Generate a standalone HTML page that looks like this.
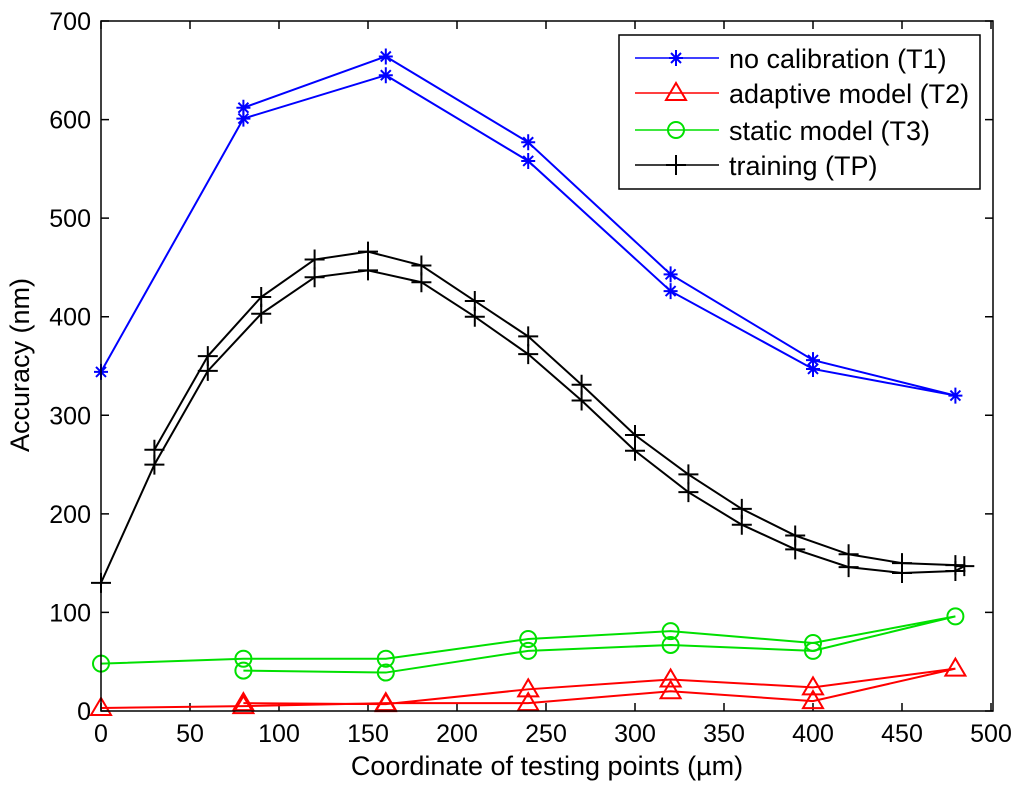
<!DOCTYPE html>
<html><head><meta charset="utf-8"><style>
body{margin:0;background:#fff}
svg text{font-family:"Liberation Sans",Arial,sans-serif;fill:#000}
</style></head><body>
<svg id="chart" width="1024" height="786" xmlns="http://www.w3.org/2000/svg">
<rect width="1024" height="786" fill="#fff"/>
<g id="ticks"></g>
<g id="series"></g>
<rect x="101" y="21" width="892" height="690" fill="none" stroke="#000" stroke-width="1.5"/>
<text x="547" y="775" font-size="27" text-anchor="middle">Coordinate of testing points (µm)</text>
<text transform="translate(29,365) rotate(-90)" font-size="27" text-anchor="middle">Accuracy (nm)</text>
<g>
<rect x="619" y="35" width="361" height="154" fill="#fff" stroke="#000" stroke-width="1.5"/>
<g id="legend-items"></g>
</g>
</svg>
<script>
const xTicks=[0,50,100,150,200,250,300,350,400,450,500];
const yTicks=[0,100,200,300,400,500,600,700];
const t1X=[0,80,160,240,320,400,480,400,320,240,160,80];
const t1Y=[344,601,645,558,426,347,320,356,443,577,664,612];
const t2X=[0,80,160,240,320,400,480,400,320,240,160,80];
const t2Y=[3,5,8,8,20,10,43,24,32,22,7,8];
const t3X=[0,80,160,240,320,400,480,400,320,240,160,80];
const t3Y=[48,53,53,73,81,69,96,61,67,61,39,41];
const tpX=[0,30,60,90,120,150,180,210,240,270,300,330,360,390,420,450,480,485,480,450,420,390,360,330,300,270,240,210,180,150,120,90,60,30];
const tpY=[130,250,345,403,440,447,435,400,362,315,264,222,189,164,146,140,142,147,148,150,159,178,205,240,280,331,380,416,452,466,458,420,360,265];
const legendLabels=["no calibration (T1)","adaptive model (T2)","static model (T3)","training (TP)"];
const NS="http://www.w3.org/2000/svg";
const X=v=>101+v*1.78, Y=v=>711-v*0.9857;
function mk(tag,attrs,parent){const e=document.createElementNS(NS,tag);for(const k in attrs)e.setAttribute(k,attrs[k]);parent.appendChild(e);return e;}
const tg=document.getElementById('ticks');
xTicks.forEach(v=>{const x=X(v);
 const l=mk('path',{d:`M${x},711V703M${x},21V29`,stroke:'#000','stroke-width':1.5},tg);
 
 
 const t=mk('text',{x:x,y:742,'font-size':25,'text-anchor':'middle'},tg);t.textContent=v;
 
 
});
yTicks.forEach(v=>{const y=Y(v);
 const l=mk('path',{d:`M101,${y}H109M993,${y}H985`,stroke:'#000','stroke-width':1.5},tg);
 
 
 const t=mk('text',{x:91,y:y+9,'font-size':25,'text-anchor':'end'},tg);t.textContent=v;
 
 
});
function marker(type,x,y,c,g){
 let d;
 if(type==='star')d=`M${x-7},${y}H${x+7}M${x},${y-8}V${y+8}M${x-5},${y-5}L${x+5},${y+5}M${x-5},${y+5}L${x+5},${y-5}`;
 if(type==='tri')return mk('path',{d:`M${x},${y-10}L${x+10},${y+7}H${x-10}Z`,fill:'none',stroke:c,'stroke-width':2},g);
 if(type==='circ')return mk('circle',{cx:x,cy:y,r:8,fill:'none',stroke:c,'stroke-width':2},g);
 if(type==='plus')d=`M${x-10},${y}H${x+10}M${x},${y-10}V${y+10}`;
 return mk('path',{d:d,fill:'none',stroke:c,'stroke-width':2},g);
}
const sg=document.getElementById('series');
const series=[[t1X,t1Y,'#0000ff','star','series-t1'],[t2X,t2Y,'#ff0000','tri','series-t2'],[t3X,t3Y,'#00e000','circ','series-t3'],[tpX,tpY,'#000','plus','series-tp']];
series.forEach(([xs,ys,c,m,name])=>{
 const g=mk('g',{},sg);
 
 
 const p=mk('polyline',{points:xs.map((x,i)=>X(x)+','+Y(ys[i])).join(' '),fill:'none',stroke:c,'stroke-width':2},g);
 
 
 xs.forEach((x,i)=>{const mm=marker(m,X(x),Y(ys[i]),c,g);
  
  });
});
const lg=document.getElementById('legend-items');
const ly=[58,93,130,165];
legendLabels.forEach((lab,i)=>{
 const [, , c,m,name]=series[i];
 const g=mk('g',{},lg);
 
 
 mk('line',{x1:635,x2:719,y1:ly[i],y2:ly[i],stroke:c,'stroke-width':1.5},g);
 marker(m,676,ly[i],c,g);
 const t=mk('text',{x:729,y:ly[i]+10,'font-size':27},g);t.textContent=lab;
});
</script>
</body></html>
